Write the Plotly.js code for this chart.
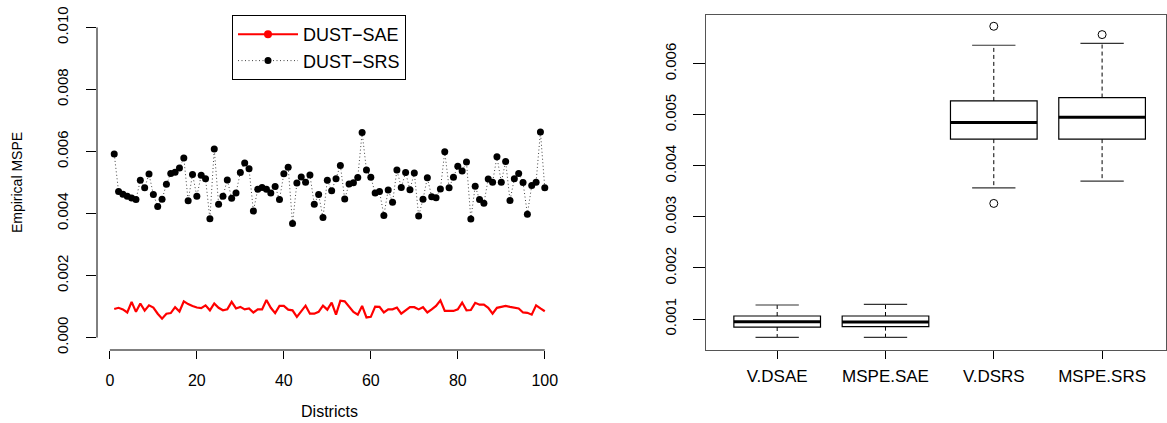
<!DOCTYPE html>
<html><head><meta charset="utf-8">
<script src="https://cdn.plot.ly/plotly-3.0.1.min.js"></script>
<style>html,body{margin:0;padding:0;background:#fff}#chart{width:1167px;height:423px}</style>
</head><body><div id="chart"></div>
<script>
const districts = [1,2,3,4,5,6,7,8,9,10,11,12,13,14,15,16,17,18,19,20,21,22,23,24,25,26,27,28,29,30,31,32,33,34,35,36,37,38,39,40,41,42,43,44,45,46,47,48,49,50,51,52,53,54,55,56,57,58,59,60,61,62,63,64,65,66,67,68,69,70,71,72,73,74,75,76,77,78,79,80,81,82,83,84,85,86,87,88,89,90,91,92,93,94,95,96,97,98,99,100];

const dustSAE = [0.00092,0.00096,0.00091,0.00081,0.00115,0.00083,0.00110,0.00087,0.00104,0.00097,
0.00077,0.00061,0.00077,0.00079,0.00098,0.00084,0.00117,0.00108,0.00102,0.00097,
0.00095,0.00104,0.00088,0.00110,0.00096,0.00088,0.00091,0.00115,0.00094,0.00099,
0.00091,0.00094,0.00081,0.00091,0.00091,0.00121,0.00096,0.00079,0.00102,0.00102,
0.00090,0.00088,0.00067,0.00085,0.00103,0.00077,0.00077,0.00083,0.00103,0.00090,
0.00113,0.00074,0.00119,0.00117,0.00099,0.00083,0.00074,0.00102,0.00065,0.00067,
0.00100,0.00099,0.00081,0.00091,0.00091,0.00097,0.00077,0.00088,0.00098,0.00098,
0.00091,0.00098,0.00081,0.00091,0.00102,0.00120,0.00086,0.00086,0.00086,0.00091,
0.00113,0.00088,0.00089,0.00112,0.00106,0.00106,0.00096,0.00077,0.00096,0.00099,
0.00102,0.00099,0.00096,0.00094,0.00081,0.00080,0.00074,0.00104,0.00094,0.00085];

const dustSRS = [0.00592,0.00471,0.00462,0.00456,0.00450,0.00445,0.00507,0.00483,0.00527,0.00461,
0.00423,0.00446,0.00494,0.00529,0.00533,0.00547,0.00579,0.00441,0.00526,0.00456,
0.00523,0.00512,0.00383,0.00608,0.00430,0.00456,0.00508,0.00449,0.00466,0.00532,
0.00563,0.00544,0.00408,0.00478,0.00484,0.00478,0.00466,0.00487,0.00445,0.00528,
0.00549,0.00368,0.00498,0.00518,0.00501,0.00524,0.00430,0.00461,0.00387,0.00507,
0.00473,0.00512,0.00555,0.00447,0.00495,0.00499,0.00516,0.00661,0.00540,0.00517,
0.00466,0.00471,0.00394,0.00476,0.00436,0.00540,0.00484,0.00532,0.00477,0.00531,
0.00392,0.00446,0.00515,0.00454,0.00451,0.00479,0.00599,0.00483,0.00517,0.00552,
0.00537,0.00566,0.00382,0.00488,0.00445,0.00433,0.00511,0.00501,0.00583,0.00501,
0.00568,0.00442,0.00512,0.00529,0.00500,0.00398,0.00490,0.00501,0.00663,0.00483];

const leftXTicks = [0,20,40,60,80,100];
const leftYTicks = [0,0.002,0.004,0.006,0.008,0.010];

const boxLabels = ['V.DSAE','MSPE.SAE','V.DSRS','MSPE.SRS'];
const boxPos = [1,2,3,4];
const boxLower = [0.000642,0.000642,0.003570,0.003700];
const boxQ1 = [0.000843,0.000850,0.004523,0.004523];
const boxMedian = [0.000947,0.000940,0.004849,0.004953];
const boxQ3 = [0.001059,0.001059,0.005272,0.005338];
const boxUpper = [0.001274,0.001288,0.006362,0.006401];
const outlierPos = [3,3,4];
const outlierVal = [0.006734,0.003264,0.006571];
const rightYTicks = [0.001,0.002,0.003,0.004,0.005,0.006];

const FONT = 'Liberation Sans, Arial, Helvetica, sans-serif';
const NARROW = 'Liberation Sans Narrow, Arial Narrow, Liberation Sans, Arial, sans-serif';
const HALF = 0.4, CAP = 0.2;

function segs(fn){ const xs=[], ys=[]; boxPos.forEach((p,i)=>{ const s=fn(p,i); xs.push(s[0],s[1],null); ys.push(s[2],s[3],null); }); return {x:xs,y:ys}; }

const med = segs((p,i)=>[p-HALF,p+HALF,boxMedian[i],boxMedian[i]]);
const whiskUp = segs((p,i)=>[p,p,boxQ3[i],boxUpper[i]]);
const whiskLo = segs((p,i)=>[p,p,boxQ1[i],boxLower[i]]);
const capUp = segs((p,i)=>[p-CAP,p+CAP,boxUpper[i],boxUpper[i]]);
const capLo = segs((p,i)=>[p-CAP,p+CAP,boxLower[i],boxLower[i]]);

const traces = [
  {type:'scatter', mode:'lines+markers', x:[null], y:[null], name:'DUST\u2212SAE', legendgroup:'sae',
   line:{color:'#ff0000', width:2}, marker:{color:'#ff0000', size:8}, xaxis:'x', yaxis:'y', hoverinfo:'skip'},
  {type:'scatter', mode:'lines', x:districts, y:dustSAE, name:'DUST\u2212SAE', legendgroup:'sae', showlegend:false,
   line:{color:'#ff0000', width:2.2}, xaxis:'x', yaxis:'y'},
  {type:'scatter', mode:'lines+markers', x:districts, y:dustSRS, name:'DUST\u2212SRS',
   line:{color:'#444', width:1, dash:'1px,2.5px'}, marker:{color:'black', size:7}, xaxis:'x', yaxis:'y'},
  {type:'box', x:boxPos, q1:boxQ1, median:boxMedian, q3:boxQ3, lowerfence:boxQ1, upperfence:boxQ3,
   width:0.8, whiskerwidth:0, boxpoints:false, fillcolor:'white', line:{color:'black', width:1.2},
   xaxis:'x2', yaxis:'y2', showlegend:false, name:'box'},
  {type:'scatter', mode:'lines', x:whiskUp.x.concat(whiskLo.x), y:whiskUp.y.concat(whiskLo.y),
   line:{color:'black', width:1, dash:'4px,3px'}, xaxis:'x2', yaxis:'y2', showlegend:false, hoverinfo:'skip'},
  {type:'scatter', mode:'lines', x:capUp.x.concat(capLo.x), y:capUp.y.concat(capLo.y),
   line:{color:'#333', width:1.2}, xaxis:'x2', yaxis:'y2', showlegend:false, hoverinfo:'skip'},
  {type:'scatter', mode:'lines', x:med.x, y:med.y,
   line:{color:'black', width:3}, xaxis:'x2', yaxis:'y2', showlegend:false, hoverinfo:'skip'},
  {type:'scatter', mode:'markers', x:outlierPos, y:outlierVal,
   marker:{symbol:'circle-open', size:8, color:'black', line:{width:1, color:'black'}}, xaxis:'x2', yaxis:'y2', showlegend:false}
];

const layout = {
  width:1167, height:423, margin:{l:0,r:0,t:0,b:0},
  paper_bgcolor:'white', plot_bgcolor:'white',
  font:{family:FONT, color:'black'},
  showlegend:true,
  legend:{x:232/1167, y:1-15/423, xanchor:'left', yanchor:'top', bordercolor:'black', borderwidth:1,
          bgcolor:'white', font:{size:18, family:FONT, color:'black'}, itemwidth:60, tracegroupgap:0},
  xaxis:{domain:[97/1167, 562/1167], range:[-2.96,103.96], tickvals:leftXTicks, ticks:'outside', ticklen:8,
         tickcolor:'black', showline:false, showgrid:false, zeroline:false, tickfont:{size:16},
         ticklabelstandoff:8,
         title:{text:'Districts', font:{size:16, color:'black'}, standoff:17}},
  yaxis:{domain:[73/423, 408/423], range:[-0.0004,0.0104], tickvals:leftYTicks, tickformat:'.3f', tickangle:-90,
         ticks:'outside', ticklen:10, tickcolor:'black', showline:false, showgrid:false, zeroline:false,
         tickfont:{size:15, family:NARROW}, ticklabelstandoff:12,
         title:{text:'Empirical MSPE', font:{size:14, color:'black'}, standoff:28}},
  xaxis2:{domain:[705.7/1167, 1166/1167], range:[0.34,4.59], tickvals:boxPos, ticktext:boxLabels, ticks:'outside',
          ticklen:8, tickcolor:'black', showline:true, mirror:true, linecolor:'#555', linewidth:1,
          showgrid:false, zeroline:false, tickfont:{size:17}, ticklabelstandoff:3, anchor:'y2'},
  yaxis2:{domain:[73/423, 408/423], range:[0.000393,0.006955], tickvals:rightYTicks, tickformat:'.3f', tickangle:-90,
          ticks:'outside', ticklen:12, tickcolor:'black', showline:true, mirror:true, linecolor:'#555', linewidth:1,
          showgrid:false, zeroline:false, tickfont:{size:15, family:NARROW}, ticklabelstandoff:11, anchor:'x2'},
  shapes:[
    {type:'line', xref:'x', yref:'y domain', x0:0, x1:100, y0:0, y1:0, line:{color:'black', width:1}},
    {type:'line', xref:'x domain', yref:'y', x0:0, x1:0, y0:0, y1:0.010, line:{color:'black', width:1}}
  ]
};

Plotly.newPlot('chart', traces, layout, {displayModeBar:false, staticPlot:true});
</script></body></html>
